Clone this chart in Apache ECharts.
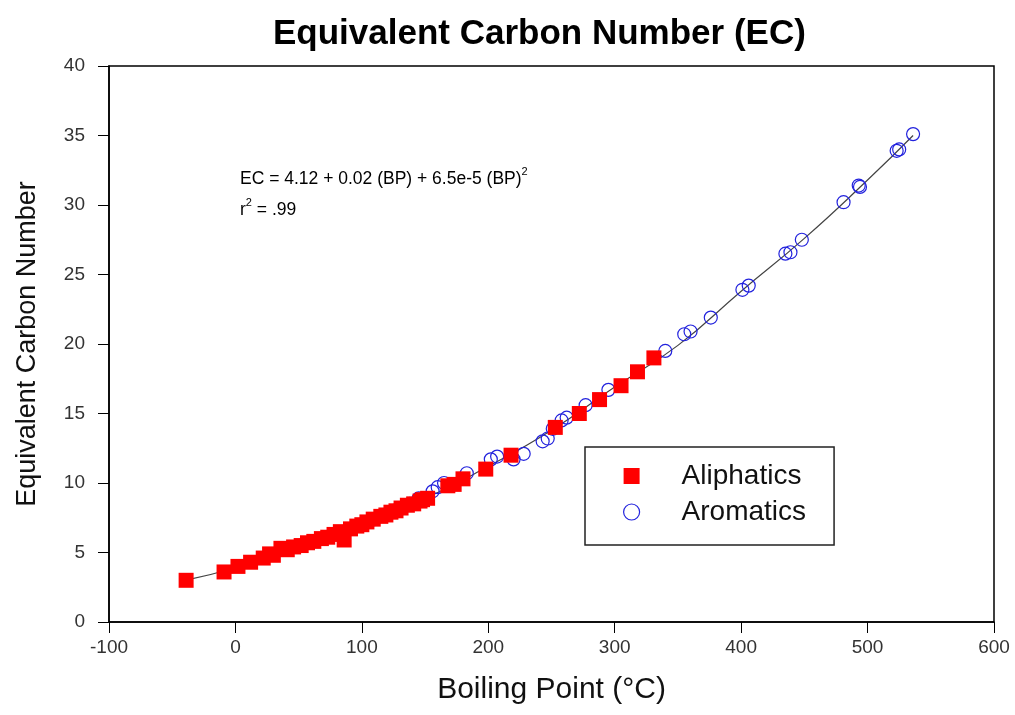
<!DOCTYPE html>
<html>
<head>
<meta charset="utf-8">
<script src="https://cdn.jsdelivr.net/npm/echarts@6/dist/echarts.min.js"></script>
<style>
html,body{margin:0;padding:0;background:#fff;}
#chart{width:1015px;height:715px;}
</style>
</head>
<body>
<div id="chart"></div>
<script>
// Aliphatics: [boiling point °C, equivalent carbon number]
var aliphaticBP = [-39, -9, 2, 12, 22, 30, 41, 52, 62, 73, 83, 86, 96, 104, 115, 123, 131, 141, 152, 173, 180, 198, 218, 253, 272, 288, 305, 318, 331,
                   27, 36, 46, 57, 68, 78, 91, 100, 109, 119, 127, 136, 146, 148, 168];
var aliphaticEC = [3.0, 3.6, 4.0, 4.3, 4.6, 4.8, 5.2, 5.5, 5.8, 6.1, 6.5, 5.9, 6.9, 7.2, 7.6, 7.9, 8.2, 8.5, 8.9, 9.9, 10.3, 11.0, 12.0, 14.0, 15.0, 16.0, 17.0, 18.0, 19.0,
                   4.9, 5.3, 5.4, 5.7, 6.0, 6.3, 6.7, 7.0, 7.4, 7.7, 8.0, 8.4, 8.7, 8.8, 9.8];
// Aromatics
var aromaticBP = [80, 110, 125, 138, 145, 156, 160, 165, 183, 202, 207, 220, 228, 243, 247, 251, 258, 262, 277, 295,
                  340, 355, 360, 376, 401, 406, 435, 439, 448, 481, 493, 494, 523, 525, 536];
var aromaticEC = [6.4, 7.4, 8.0, 8.5, 8.9, 9.4, 9.7, 10.0, 10.7, 11.7, 11.9, 11.7, 12.1, 13.0, 13.2, 13.9, 14.5, 14.7, 15.6, 16.7,
                  19.5, 20.7, 20.9, 21.9, 23.9, 24.2, 26.5, 26.6, 27.5, 30.2, 31.4, 31.3, 33.9, 34.0, 35.1];
// Fitted curve
var fitBP = [-40, 0, 50, 100, 150, 200, 250, 300, 350, 400, 450, 500, 536];
var fitEC = [3.0, 3.9, 5.45, 7.1, 8.9, 11.2, 13.8, 16.9, 19.9, 23.8, 27.6, 31.8, 35.0];
// Axis ticks
var xMin = -100, xMax = 600, xStep = 100;
var yMin = 0, yMax = 40, yStep = 5;
var titleText = 'Equivalent Carbon Number (EC)';
var xTitle = 'Boiling Point (°C)';
var yTitle = 'Equivalent Carbon Number';
var eqLine1 = 'EC = 4.12 + 0.02 (BP) + 6.5e-5 (BP)';
var eqLine2a = 'r';
var eqLine2b = ' = .99';

function zip(a, b) { return a.map(function (v, i) { return [v, b[i]]; }); }

var chart = echarts.init(document.getElementById('chart'));
var font = 'Liberation Sans, Arial, sans-serif';
var richEq = {
  n: { fontFamily: font, fontSize: 17.5, color: '#222', lineHeight: 22, verticalAlign: 'bottom' },
  s: { fontFamily: font, fontSize: 11, color: '#222', lineHeight: 22, verticalAlign: 'top' }
};
chart.setOption({
  animation: false,
  backgroundColor: '#fff',
  title: {
    text: titleText, left: 268, top: 12,
    textStyle: { fontFamily: font, fontWeight: 'bold', fontSize: 35, color: '#000' }
  },
  grid: { left: 109, right: 21, top: 66, bottom: 93, show: true, borderColor: '#000', borderWidth: 1.5, backgroundColor: 'transparent' },
  legend: {
    orient: 'vertical', left: 585, top: 447,
    padding: [15, 28, 19, 38], itemWidth: 16, itemHeight: 16, itemGap: 8,
    borderColor: '#222', borderWidth: 1.5,
    textStyle: { fontFamily: font, fontSize: 28, lineHeight: 28, color: '#111', padding: [0, 0, 0, 37] },
    data: [
      { name: 'Aliphatics', icon: 'rect' },
      { name: 'Aromatics', icon: 'circle', itemStyle: { color: '#fff', borderColor: '#2222dd', borderWidth: 1.2 } }
    ]
  },
  xAxis: {
    type: 'value', min: xMin, max: xMax, interval: xStep,
    name: xTitle, nameLocation: 'middle', nameGap: 53,
    nameTextStyle: { fontFamily: font, fontSize: 30, color: '#111' },
    axisLine: { show: true, onZero: false, lineStyle: { color: '#000', width: 1.5 } },
    axisTick: { show: true, inside: false, length: 11, lineStyle: { color: '#000' } },
    axisLabel: { fontFamily: font, fontSize: 19, color: '#333', margin: 16 },
    splitLine: { show: false }
  },
  yAxis: {
    type: 'value', min: yMin, max: yMax, interval: yStep,
    name: yTitle, nameLocation: 'middle', nameGap: 68, nameRotate: 90,
    nameTextStyle: { fontFamily: font, fontSize: 27, color: '#111' },
    axisLine: { show: true, onZero: false, lineStyle: { color: '#000', width: 1.5 } },
    axisTick: { show: true, inside: false, length: 11, lineStyle: { color: '#000' } },
    axisLabel: { fontFamily: font, fontSize: 19, color: '#333', margin: 24 },
    splitLine: { show: false }
  },
  graphic: [
    { type: 'text', left: 240, top: 166, style: { text: '{n|' + eqLine1 + '}{s|2}', rich: richEq } },
    { type: 'text', left: 240, top: 197, style: { text: '{n|' + eqLine2a + '}{s|2}{n|' + eqLine2b + '}', rich: richEq } }
  ],
  series: [
    {
      name: 'Fit', type: 'line', data: zip(fitBP, fitEC), smooth: true, showSymbol: false,
      lineStyle: { color: '#444', width: 1.2 }, z: 1, silent: true
    },
    {
      name: 'Aromatics', type: 'scatter', data: zip(aromaticBP, aromaticEC),
      symbol: 'circle', symbolSize: 13,
      itemStyle: { color: 'rgba(255,255,255,0)', borderColor: '#2222dd', borderWidth: 1.2, opacity: 1 }, z: 2
    },
    {
      name: 'Aliphatics', type: 'scatter', data: zip(aliphaticBP, aliphaticEC),
      symbol: 'rect', symbolSize: 15,
      itemStyle: { color: '#ff0000', opacity: 1 }, z: 3
    }
  ]
});
</script>
</body>
</html>
